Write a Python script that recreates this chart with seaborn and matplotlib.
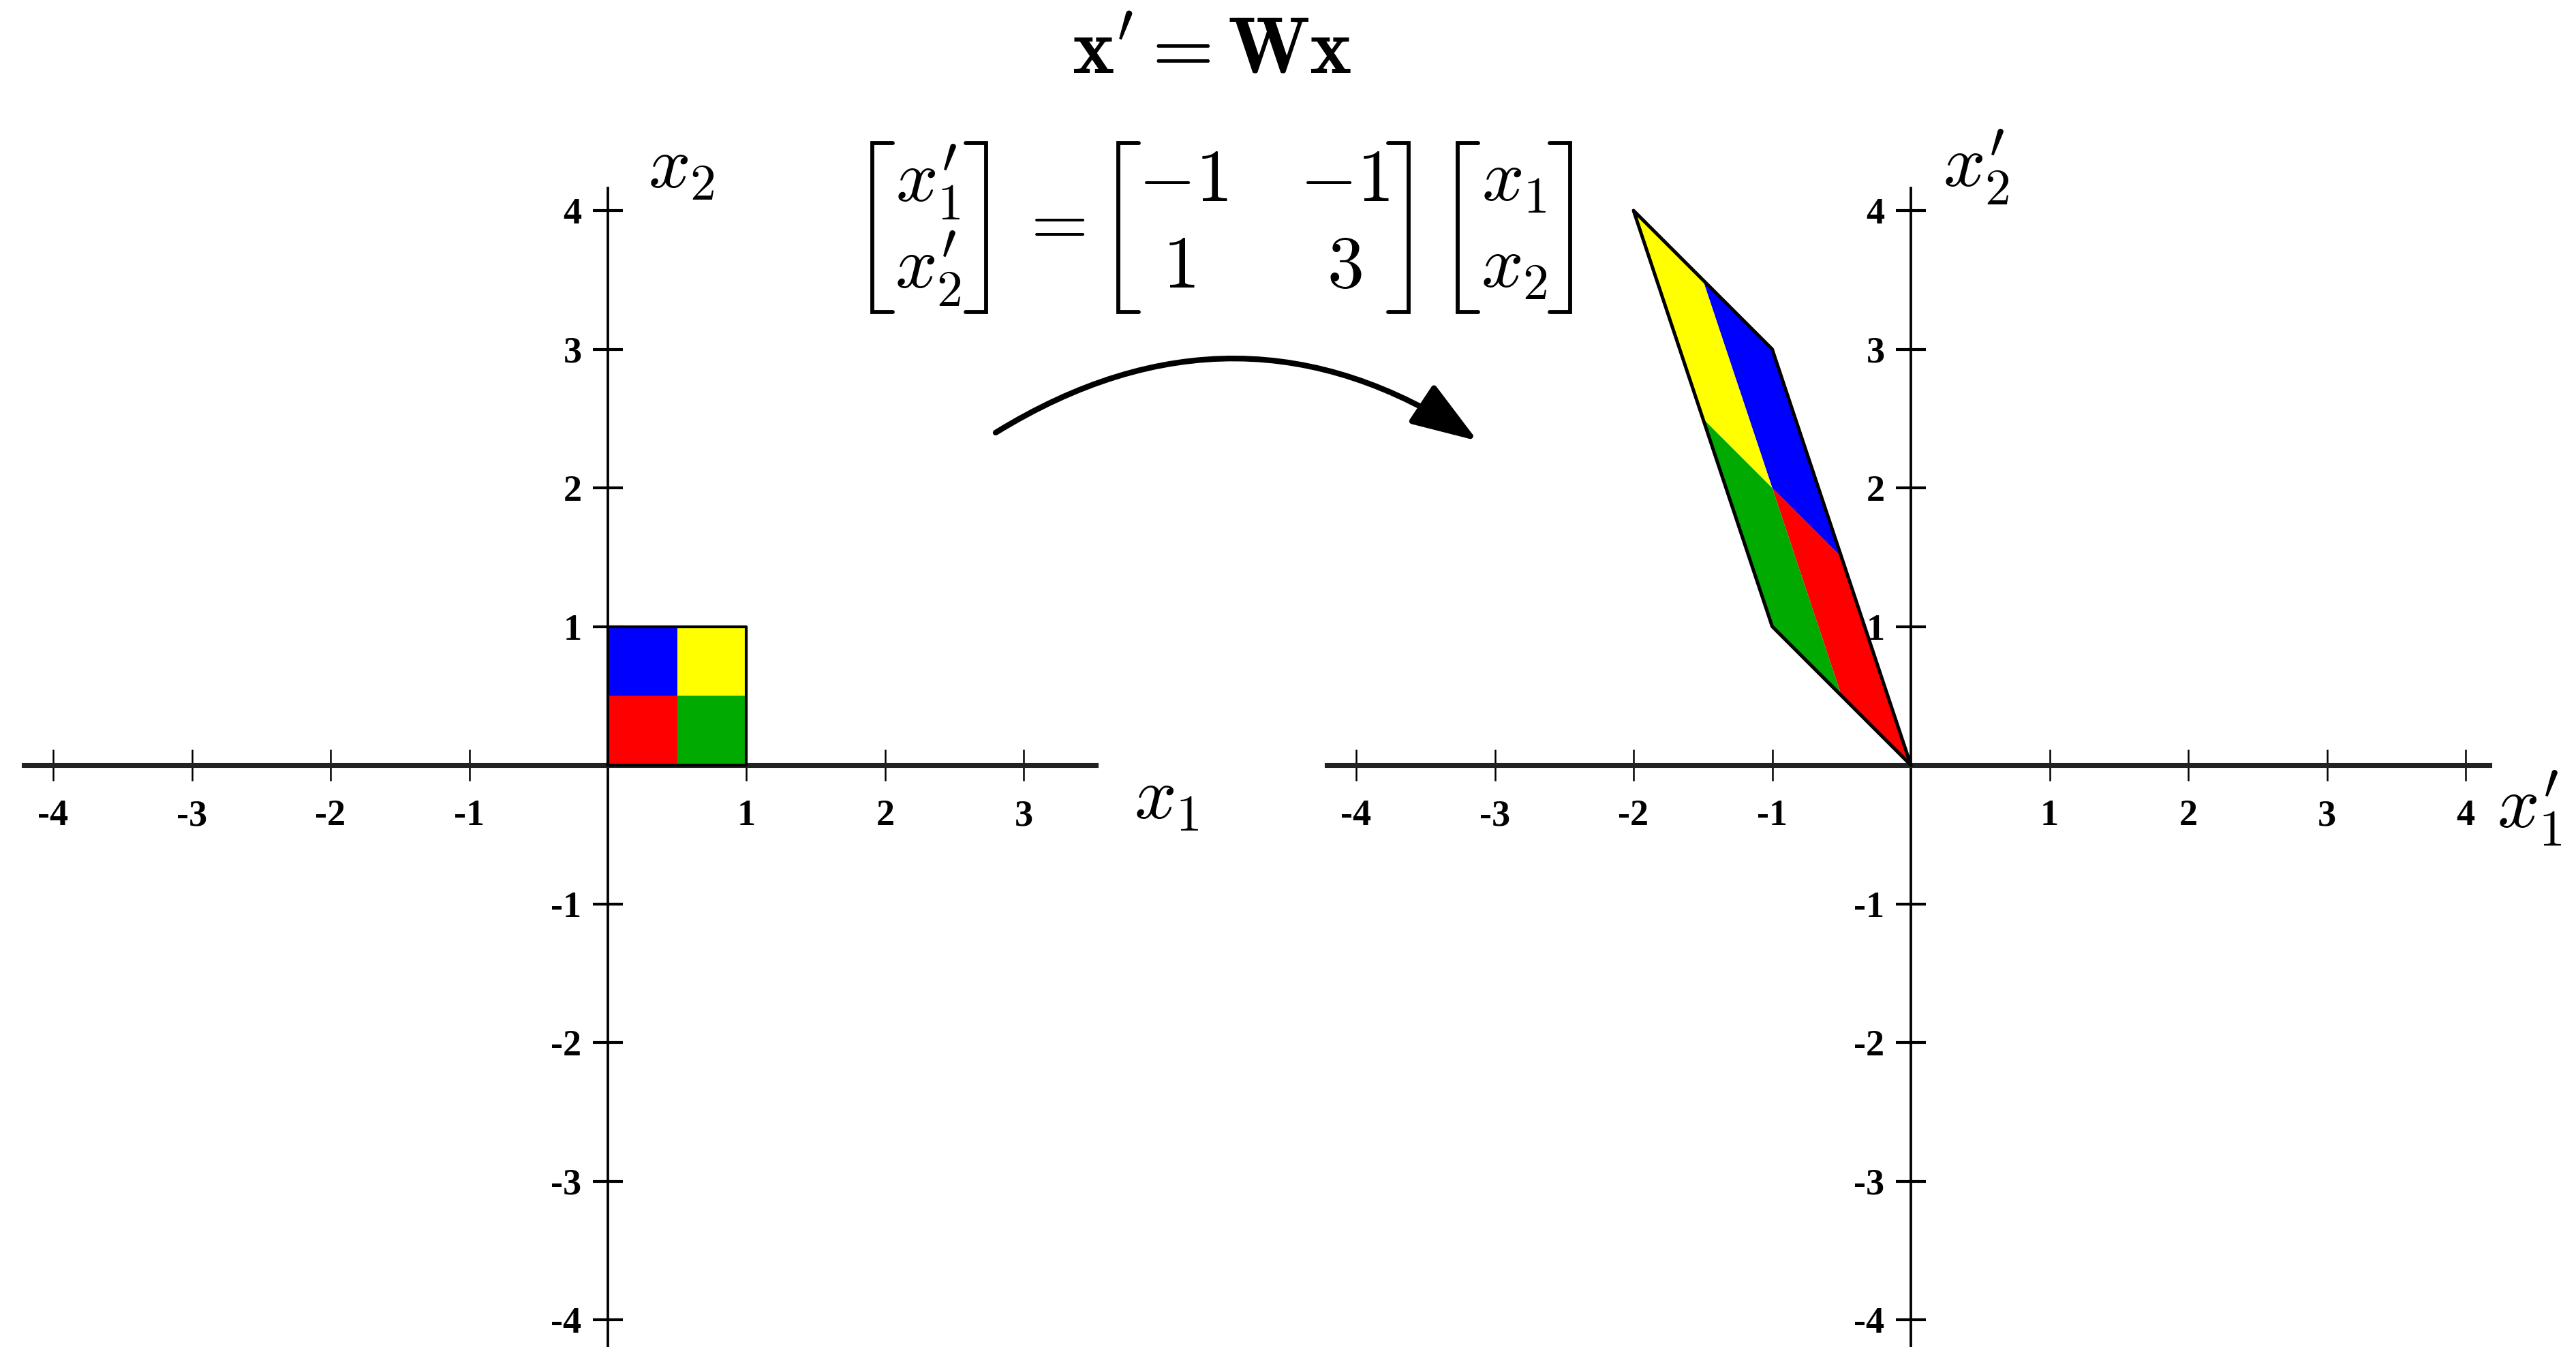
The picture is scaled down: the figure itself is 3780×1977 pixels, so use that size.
import numpy as np
import matplotlib.pyplot as plt
from matplotlib.patches import FancyArrowPatch
from matplotlib.lines import Line2D
import seaborn as sns

# transformation matrix W
W = np.array([[-1, -1], [1, 3]])

# unit square split into four coloured quadrants (red, green, blue, yellow)
quad_colors = ["#ff0000", "#00aa00", "#0000ff", "#ffff00"]
quad_x = [[0, 0.5, 0.5, 0], [0.5, 1, 1, 0.5], [0, 0.5, 0.5, 0], [0.5, 1, 1, 0.5]]
quad_y = [[0, 0, 0.5, 0.5], [0, 0, 0.5, 0.5], [0.5, 0.5, 1, 1], [0.5, 0.5, 1, 1]]
square_x = [0, 1, 1, 0, 0]
square_y = [0, 0, 1, 1, 0]

left_xticks = [-4, -3, -2, -1, 1, 2, 3]
right_xticks = [-4, -3, -2, -1, 1, 2, 3, 4]
yticks = [-4, -3, -2, -1, 1, 2, 3, 4]

sns.set_theme(style="white")
plt.rcParams["font.family"] = ["Liberation Serif", "DejaVu Serif"]
plt.rcParams["mathtext.fontset"] = "cm"
plt.rcParams["axes.unicode_minus"] = False
plt.rcParams["text.color"] = "black"

W_PX, H_PX = 3780, 1977
UNIT = 203.5  # pixels per data unit
fig = plt.figure(figsize=(W_PX / 300, H_PX / 300), dpi=300)
fig.patch.set_facecolor("white")


def fxy(x, y):
    return x / W_PX, 1 - y / H_PX


def make_axes(ox, oy, xlim, ylim, xbounds, ybounds, xticks):
    left = ox + xlim[0] * UNIT
    right = ox + xlim[1] * UNIT
    top = oy - ylim[1] * UNIT
    bottom = oy - ylim[0] * UNIT
    ax = fig.add_axes([left / W_PX, 1 - bottom / H_PX,
                       (right - left) / W_PX, (bottom - top) / H_PX])
    ax.set_xlim(xlim)
    ax.set_ylim(ylim)
    ax.patch.set_alpha(0)
    for s in ["top", "right"]:
        ax.spines[s].set_visible(False)
    ax.spines["left"].set_position(("data", 0))
    ax.spines["bottom"].set_position(("data", 0))
    ax.spines["bottom"].set_bounds(*xbounds)
    ax.spines["left"].set_bounds(*ybounds)
    ax.spines["bottom"].set_linewidth(1.7)
    ax.spines["bottom"].set_color("#222222")
    ax.spines["left"].set_linewidth(0.9)
    ax.spines["left"].set_color("black")
    ax.set_xticks(xticks, labels=[str(t) for t in xticks], fontweight="bold")
    ax.set_yticks(yticks, labels=[str(t) for t in yticks], fontweight="bold")
    ax.tick_params(axis="x", bottom=True, direction="inout", length=11, width=0.6,
                   pad=6.5, labelsize=13, colors="black")
    ax.tick_params(axis="y", left=True, direction="inout", length=10.5, width=1.0,
                   pad=4.0, labelsize=13, colors="black")
    ax.set_aspect("equal")
    return ax


ax1 = make_axes(892, 1123, (-4.35, 3.6), (-4.3, 4.25), (-4.21, 3.52), (-4.3, 4.16), left_xticks)
ax2 = make_axes(2804, 1123, (-4.35, 4.3), (-4.3, 4.25), (-4.21, 4.17), (-4.3, 4.16), right_xticks)

# original unit square
for qx, qy, c in zip(quad_x, quad_y, quad_colors):
    ax1.fill(qx, qy, color=c, lw=0, zorder=3)
sns.lineplot(x=square_x, y=square_y, sort=False, estimator=None, color="black",
             lw=1.0, ax=ax1, zorder=4)

# transformed square
for qx, qy, c in zip(quad_x, quad_y, quad_colors):
    pts = W @ np.vstack([qx, qy])
    ax2.fill(pts[0], pts[1], color=c, lw=0, zorder=3)
outline = W @ np.vstack([square_x, square_y])
sns.lineplot(x=outline[0], y=outline[1], sort=False, estimator=None, color="black",
             lw=1.2, ax=ax2, zorder=4)
for ax in (ax1, ax2):
    ax.set_xlabel("")
    ax.set_ylabel("")

# axis labels
MS = 26
fig.text(*fxy(1000, 250), r"$x_2$", fontsize=MS, ha="center", va="center")
fig.text(*fxy(1712, 1176), r"$x_1$", fontsize=MS, ha="center", va="center")
fig.text(*fxy(2900, 245), r"$x^{\prime}_2$", fontsize=MS, ha="center", va="center")
fig.text(*fxy(3712, 1186), r"$x^{\prime}_1$", fontsize=MS, ha="center", va="center")

# title equation
fig.text(*fxy(1778, 107), r"$\mathbf{x}^{\prime} = \mathbf{W}\mathbf{x}$",
         fontsize=28, ha="center", va="baseline")

# matrix equation, brackets drawn by hand
TOP, BOT, SERIF = 210, 458, 30


def bracket(x, side):
    d = SERIF if side == "l" else -SERIF
    xs = [x + d, x, x, x + d]
    ys = [TOP, TOP, BOT, BOT]
    pts = [fxy(a, b) for a, b in zip(xs, ys)]
    fig.add_artist(Line2D([p[0] for p in pts], [p[1] for p in pts],
                          transform=fig.transFigure, color="black", lw=1.4,
                          solid_joinstyle="miter"))


for xl, xr in [(1280, 1447), (1641, 2067), (2139, 2304)]:
    bracket(xl, "l")
    bracket(xr, "r")

ROW1, ROW2 = 295, 422
fig.text(*fxy(1362, ROW1), r"$x^{\prime}_1$", fontsize=MS, ha="center", va="baseline")
fig.text(*fxy(1362, ROW2), r"$x^{\prime}_2$", fontsize=MS, ha="center", va="baseline")
fig.text(*fxy(1543, 333), r"$=$", fontsize=MS, ha="center", va="center")
fig.text(*fxy(1736, ROW1), r"$-1$", fontsize=MS, ha="center", va="baseline")
fig.text(*fxy(1973, ROW1), r"$-1$", fontsize=MS, ha="center", va="baseline")
fig.text(*fxy(1730, ROW2), r"$1$", fontsize=MS, ha="center", va="baseline")
fig.text(*fxy(1973, ROW2), r"$3$", fontsize=MS, ha="center", va="baseline")
fig.text(*fxy(2222, ROW1), r"$x_1$", fontsize=MS, ha="center", va="baseline")
fig.text(*fxy(2222, ROW2), r"$x_2$", fontsize=MS, ha="center", va="baseline")

# curved arrow
arrow = FancyArrowPatch(fxy(1461, 635), fxy(2168, 647), transform=fig.transFigure,
                        connectionstyle="arc3,rad=-0.32",
                        arrowstyle="-|>,head_length=1.0,head_width=0.35",
                        mutation_scale=20, lw=2.0, color="black",
                        shrinkA=0, shrinkB=0)
fig.add_artist(arrow)

fig.savefig("out.png", dpi=300)
